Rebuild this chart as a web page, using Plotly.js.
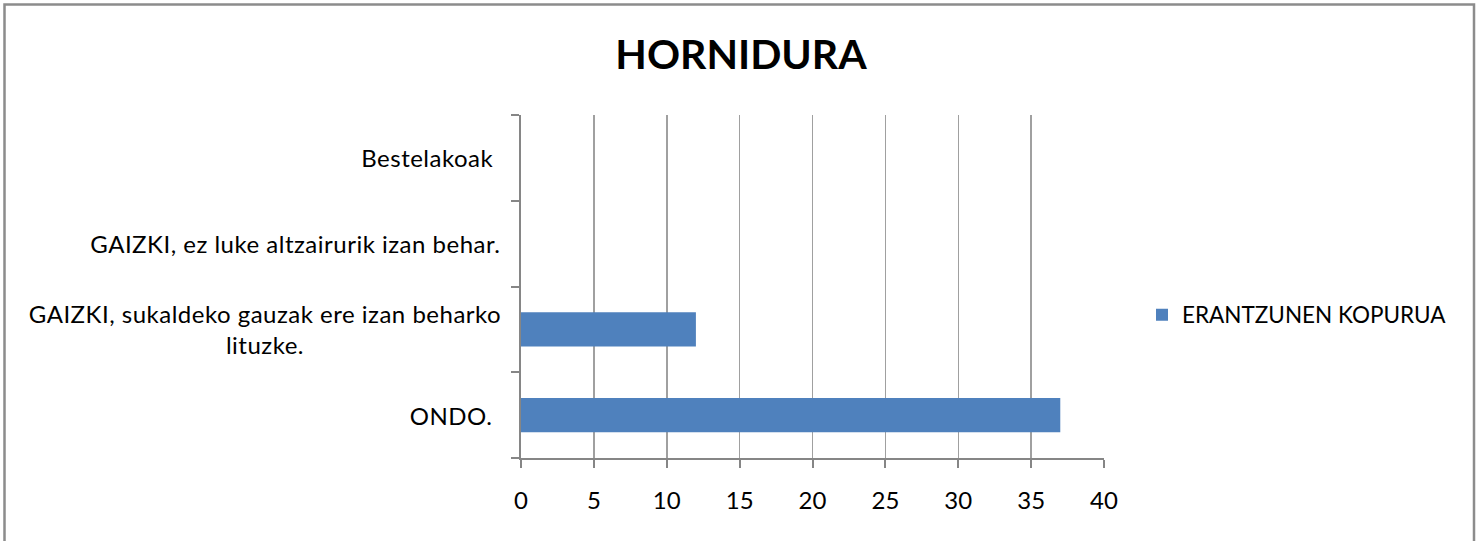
<!DOCTYPE html>
<html>
<head>
<meta charset="utf-8">
<script src="https://cdn.plot.ly/plotly-3.0.1.min.js"></script>
<style>html,body{margin:0;padding:0;background:#fff;}#chart{width:1482px;height:541px;}
#chart .annotation-text{letter-spacing:0.5px;}
</style>
</head>
<body>
<div id="chart"></div>
<script>
var categories = ["ONDO.", "GAIZKI, sukaldeko gauzak ere izan beharko<br>lituzke.", "GAIZKI, ez luke altzairurik izan behar.", "Bestelakoak"];
var values = [37, 12, 0, 0];
var seriesName = "ERANTZUNEN KOPURUA";
var xTicks = [0, 5, 10, 15, 20, 25, 30, 35, 40];
var chartTitle = "HORNIDURA";

var FONT = "Lato, Carlito, Calibri, sans-serif";
var W = 1482, H = 541;
var L = 521, R = 1104, T = 115, B = 458;

var catIdx = categories.map(function (c, i) { return i; });
var boundaries = [-0.5].concat(catIdx.map(function (i) { return i + 0.5; }));

var annotations = categories.map(function (c, i) {
  return {
    text: c, xref: "paper", yref: "y", x: 0, y: i,
    xanchor: "right", yanchor: "middle", xshift: -28, align: "center",
    showarrow: false, font: {family: FONT, size: 24, color: "#000"}
  };
});

var trace = {
  type: "bar", orientation: "h",
  y: catIdx,
  x: values,
  name: seriesName,
  marker: {color: "#4F81BD", line: {width: 0}},
  hoverinfo: "x"
};

var layout = {
  width: W, height: H,
  paper_bgcolor: "#fff", plot_bgcolor: "#fff",
  margin: {l: L, r: W - R, t: T, b: H - B, pad: 0},
  font: {family: FONT, size: 24, color: "#000"},
  title: {text: "<b>" + chartTitle + "</b>", font: {family: FONT, size: 41, color: "#000"},
    xref: "container", x: 0.5, xanchor: "center", yref: "container", y: 1 - 55 / H, yanchor: "middle"},
  bargap: 0.6,
  showlegend: true,
  legend: {x: (1142 - L) / (R - L), xanchor: "left", y: (B - 315) / (B - T), yanchor: "middle",
    font: {family: FONT, size: 22.5, color: "#000"}, bgcolor: "rgba(0,0,0,0)"},
  xaxis: {
    range: [0, 40], tickmode: "array", tickvals: xTicks, ticktext: xTicks.map(String),
    ticks: "outside", ticklen: 8, tickwidth: 2, tickcolor: "#868686",
    showgrid: true, gridcolor: "#a0a0a0", gridwidth: 1.5,
    showline: true, linecolor: "#868686", linewidth: 2,
    zeroline: false, fixedrange: true,
    tickfont: {family: FONT, size: 24, color: "#000"}, ticklabelstandoff: 12
  },
  yaxis: {
    range: [-0.5, categories.length - 0.5], tickmode: "array", tickvals: boundaries,
    ticktext: boundaries.map(function () { return ""; }),
    ticks: "outside", ticklen: 8, tickwidth: 2, tickcolor: "#868686",
    showgrid: false, showline: true, linecolor: "#868686", linewidth: 2,
    zeroline: false, fixedrange: true, showticklabels: false
  },
  annotations: annotations,
  shapes: [{
    type: "rect", xref: "paper", yref: "paper",
    x0: (4.5 - L) / (R - L), x1: (1474 - L) / (R - L),
    y0: (B - 600) / (B - T), y1: (B - 4.5) / (B - T),
    line: {color: "#8c8c8c", width: 2.5}, fillcolor: "rgba(0,0,0,0)", layer: "below"
  }]
};

Plotly.newPlot("chart", [trace], layout, {displayModeBar: false, staticPlot: true});
</script>
</body>
</html>
